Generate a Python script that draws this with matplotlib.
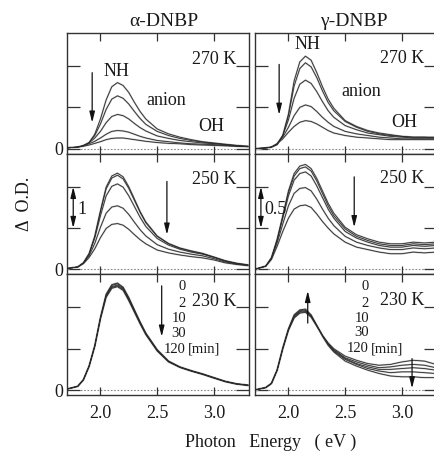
import matplotlib
matplotlib.use("Agg")
import matplotlib.pyplot as plt

plt.rcParams['font.family'] = ['Liberation Serif', 'DejaVu Serif']
plt.rcParams['mathtext.fontset'] = 'stix'

# ---------------- data ----------------
energy = [1.70, 1.80, 1.85, 1.90, 1.95, 2.00, 2.05, 2.10, 2.15, 2.20, 2.25, 2.30,
          2.35, 2.40, 2.50, 2.60, 2.70, 2.80, 2.90, 3.00, 3.10, 3.20, 3.30]

alpha_270 = [
    [0.02, 0.04, 0.07, 0.15, 0.35, 0.72, 1.18, 1.50, 1.60, 1.53, 1.36, 1.12, 0.90, 0.72, 0.48, 0.36, 0.28, 0.22, 0.17, 0.14, 0.11, 0.08, 0.06],
    [0.02, 0.04, 0.08, 0.15, 0.32, 0.60, 0.95, 1.20, 1.28, 1.22, 1.08, 0.90, 0.73, 0.59, 0.42, 0.32, 0.25, 0.20, 0.16, 0.13, 0.10, 0.08, 0.06],
    [0.02, 0.04, 0.08, 0.14, 0.26, 0.42, 0.63, 0.78, 0.83, 0.80, 0.72, 0.61, 0.51, 0.43, 0.31, 0.25, 0.20, 0.17, 0.14, 0.12, 0.10, 0.07, 0.05],
    [0.02, 0.04, 0.07, 0.12, 0.18, 0.26, 0.35, 0.42, 0.44, 0.43, 0.40, 0.35, 0.30, 0.26, 0.20, 0.17, 0.14, 0.12, 0.11, 0.10, 0.08, 0.06, 0.05],
    [0.02, 0.04, 0.06, 0.09, 0.13, 0.17, 0.22, 0.25, 0.26, 0.26, 0.24, 0.22, 0.20, 0.18, 0.15, 0.13, 0.12, 0.10, 0.09, 0.08, 0.07, 0.06, 0.05],
]
gamma_270 = [
    [0.00, 0.01, 0.02, 0.05, 0.16, 0.42, 0.82, 1.05, 1.12, 1.07, 0.92, 0.75, 0.60, 0.49, 0.34, 0.27, 0.22, 0.19, 0.17, 0.15, 0.14, 0.14, 0.14],
    [0.00, 0.01, 0.02, 0.05, 0.16, 0.40, 0.76, 0.97, 1.04, 0.99, 0.86, 0.70, 0.56, 0.46, 0.33, 0.26, 0.21, 0.18, 0.16, 0.15, 0.14, 0.14, 0.13],
    [0.00, 0.01, 0.02, 0.06, 0.16, 0.35, 0.61, 0.78, 0.83, 0.79, 0.69, 0.57, 0.46, 0.38, 0.28, 0.23, 0.19, 0.17, 0.15, 0.14, 0.13, 0.13, 0.13],
    [0.00, 0.01, 0.02, 0.06, 0.14, 0.26, 0.40, 0.50, 0.53, 0.51, 0.45, 0.38, 0.32, 0.27, 0.21, 0.18, 0.16, 0.14, 0.13, 0.12, 0.12, 0.12, 0.12],
    [0.00, 0.01, 0.02, 0.06, 0.12, 0.20, 0.27, 0.32, 0.34, 0.33, 0.30, 0.26, 0.22, 0.19, 0.16, 0.14, 0.13, 0.12, 0.11, 0.11, 0.11, 0.11, 0.11],
]
alpha_250 = [
    [0.02, 0.06, 0.16, 0.38, 0.80, 1.42, 1.99, 2.26, 2.33, 2.24, 2.00, 1.70, 1.40, 1.15, 0.81, 0.63, 0.52, 0.45, 0.39, 0.30, 0.21, 0.15, 0.11],
    [0.02, 0.06, 0.16, 0.38, 0.80, 1.40, 1.95, 2.21, 2.28, 2.19, 1.96, 1.67, 1.38, 1.13, 0.80, 0.62, 0.51, 0.44, 0.38, 0.30, 0.21, 0.15, 0.11],
    [0.02, 0.06, 0.16, 0.37, 0.76, 1.30, 1.78, 2.01, 2.07, 1.99, 1.78, 1.52, 1.26, 1.04, 0.75, 0.59, 0.49, 0.42, 0.37, 0.29, 0.20, 0.14, 0.10],
    [0.02, 0.06, 0.15, 0.33, 0.63, 1.02, 1.36, 1.51, 1.54, 1.48, 1.33, 1.14, 0.96, 0.81, 0.60, 0.49, 0.42, 0.37, 0.33, 0.26, 0.18, 0.13, 0.10],
    [0.02, 0.06, 0.14, 0.29, 0.50, 0.77, 0.99, 1.09, 1.11, 1.07, 0.97, 0.84, 0.72, 0.62, 0.47, 0.40, 0.35, 0.31, 0.28, 0.23, 0.16, 0.12, 0.09],
]
gamma_250 = [
    [0.00, 0.04, 0.14, 0.36, 0.65, 0.95, 1.16, 1.25, 1.27, 1.22, 1.10, 0.95, 0.80, 0.68, 0.51, 0.42, 0.37, 0.33, 0.31, 0.31, 0.33, 0.32, 0.33],
    [0.00, 0.04, 0.14, 0.36, 0.64, 0.93, 1.13, 1.22, 1.24, 1.19, 1.07, 0.92, 0.77, 0.65, 0.49, 0.40, 0.35, 0.31, 0.29, 0.29, 0.31, 0.30, 0.31],
    [0.00, 0.04, 0.14, 0.35, 0.62, 0.89, 1.08, 1.16, 1.18, 1.13, 1.01, 0.87, 0.73, 0.62, 0.46, 0.38, 0.33, 0.29, 0.27, 0.27, 0.29, 0.28, 0.29],
    [0.00, 0.04, 0.13, 0.32, 0.55, 0.77, 0.92, 0.98, 0.99, 0.95, 0.85, 0.73, 0.62, 0.53, 0.40, 0.33, 0.29, 0.26, 0.24, 0.24, 0.26, 0.25, 0.26],
    [0.00, 0.04, 0.12, 0.28, 0.46, 0.62, 0.73, 0.77, 0.78, 0.75, 0.67, 0.58, 0.50, 0.43, 0.33, 0.27, 0.24, 0.21, 0.19, 0.19, 0.21, 0.20, 0.21],
]
alpha_230 = [
    [0.02, 0.09, 0.25, 0.58, 1.07, 1.76, 2.32, 2.55, 2.59, 2.49, 2.24, 1.94, 1.65, 1.38, 0.98, 0.70, 0.56, 0.47, 0.39, 0.30, 0.21, 0.15, 0.12],
    [0.02, 0.09, 0.25, 0.58, 1.07, 1.75, 2.30, 2.53, 2.57, 2.47, 2.22, 1.93, 1.64, 1.37, 0.97, 0.70, 0.56, 0.47, 0.39, 0.30, 0.21, 0.15, 0.12],
    [0.02, 0.09, 0.25, 0.58, 1.07, 1.74, 2.28, 2.50, 2.54, 2.45, 2.20, 1.91, 1.62, 1.36, 0.96, 0.69, 0.55, 0.46, 0.39, 0.30, 0.21, 0.15, 0.12],
    [0.02, 0.09, 0.25, 0.58, 1.06, 1.73, 2.26, 2.48, 2.52, 2.43, 2.18, 1.89, 1.61, 1.35, 0.95, 0.69, 0.55, 0.46, 0.38, 0.29, 0.21, 0.15, 0.11],
    [0.02, 0.09, 0.25, 0.57, 1.06, 1.72, 2.24, 2.46, 2.50, 2.41, 2.16, 1.88, 1.60, 1.34, 0.95, 0.68, 0.55, 0.46, 0.38, 0.29, 0.20, 0.14, 0.11],
]
gamma_230 = [
    [0.00, 0.03, 0.08, 0.24, 0.50, 0.72, 0.87, 0.93, 0.94, 0.88, 0.77, 0.66, 0.57, 0.50, 0.41, 0.36, 0.32, 0.30, 0.31, 0.34, 0.36, 0.35, 0.31],
    [0.00, 0.03, 0.08, 0.24, 0.50, 0.73, 0.88, 0.94, 0.95, 0.89, 0.78, 0.66, 0.56, 0.49, 0.39, 0.34, 0.30, 0.27, 0.28, 0.30, 0.31, 0.30, 0.27],
    [0.00, 0.03, 0.08, 0.24, 0.50, 0.73, 0.89, 0.95, 0.96, 0.90, 0.78, 0.66, 0.56, 0.48, 0.38, 0.32, 0.28, 0.25, 0.25, 0.26, 0.27, 0.26, 0.24],
    [0.00, 0.03, 0.08, 0.24, 0.51, 0.74, 0.90, 0.96, 0.97, 0.90, 0.78, 0.66, 0.55, 0.47, 0.37, 0.31, 0.26, 0.23, 0.21, 0.22, 0.22, 0.21, 0.20],
    [0.00, 0.03, 0.08, 0.24, 0.51, 0.74, 0.91, 0.97, 0.98, 0.91, 0.78, 0.65, 0.54, 0.46, 0.35, 0.29, 0.24, 0.20, 0.17, 0.16, 0.16, 0.15, 0.15],
]

temps = ["270 K", "250 K", "230 K"]
titles = ["\u03b1-DNBP", "\u03b3-DNBP"]
xticks = [2.0, 2.5, 3.0]
xticklabels = ["2.0", "2.5", "3.0"]
time_labels = ["0", "2", "10", "30", "120"]

# ---------------- layout ----------------
W, H = 435, 457
fig = plt.figure(figsize=(W / 100, H / 100), dpi=100)

def fx(px):
    return px / W

def fy(py):
    return 1 - py / H

left_x = [67, 255]
ax_w = 182
tops = [33, 153.7, 274.3]
ax_h = 120.7

data = [[alpha_270, gamma_270], [alpha_250, gamma_250], [alpha_230, gamma_230]]
axes = [[None, None] for _ in range(3)]
FS = 13
TXT = '#1a1a1a'

for r in range(3):
    for c in range(2):
        ax = fig.add_axes([fx(left_x[c]), fy(tops[r] + ax_h), fx(ax_w), ax_h / H])
        axes[r][c] = ax
        ax.set_xlim(1.705, 3.31)
        if c == 0:
            ax.set_ylim(-0.12, 2.80)
            ax.set_yticks([0, 1, 2])
            ax.set_yticklabels(["0", "", ""])
        else:
            ax.set_ylim(-0.06, 1.40)
            ax.set_yticks([0, 0.5, 1.0])
            ax.set_yticklabels(["", "", ""])
        ax.set_xticks(xticks)
        if r == 2:
            ax.set_xticklabels(xticklabels)
        else:
            ax.set_xticklabels([])
        ax.tick_params(axis='x', direction='in', top=True, bottom=True, length=6,
                       width=0.9, labelsize=FS, pad=7, colors='#333333', labelcolor=TXT)
        ax.tick_params(axis='y', direction='in', left=True, right=True, length=9.5,
                       width=0.9, labelsize=FS, pad=3, colors='#333333', labelcolor=TXT)
        for s in ax.spines.values():
            s.set_linewidth(1.0)
            s.set_color('#333333')
        ax.axhline(0, color='#888888', lw=0.8, ls=(0, (1.5, 1.5)), zorder=1)
        for curve in data[r][c]:
            ax.plot(energy, curve, color='#c4c4c4', lw=1.3, zorder=2)
            ax.plot(energy, curve, color='#2a2a2a', lw=0.6, zorder=3)

# titles
fig.text(fx(164), fy(22), titles[0], ha='center', va='center', fontsize=14, color=TXT)
fig.text(fx(354), fy(22), titles[1], ha='center', va='center', fontsize=14, color=TXT)

# axis labels
fig.text(fx(271), fy(442), "Photon   Energy   ( eV )", ha='center', va='center', fontsize=FS, color=TXT)
fig.text(fx(25), fy(204), "\u0394  O.D.", ha='center', va='center', rotation=90, fontsize=FS, color=TXT)

arrow_kw = dict(arrowstyle='-|>,head_width=0.16,head_length=0.65', color='#111111', lw=0.9,
                shrinkA=0, shrinkB=0)
dbl_kw = dict(arrowstyle='<|-|>,head_width=0.16,head_length=0.65', color='#111111', lw=0.9,
              shrinkA=0, shrinkB=0)

# temperature labels
temp_y = [[2.17, 1.09], [2.17, 1.10], [2.14, 1.08]]
for r in range(3):
    for c in range(2):
        axes[r][c].text(3.20, temp_y[r][c], temps[r], ha='right', va='center', fontsize=FS, color=TXT)

# top row annotations
a = axes[0][0]
a.text(2.14, 1.86, "NH", ha='center', va='center', fontsize=FS, color=TXT)
a.text(2.58, 1.17, "anion", ha='center', va='center', fontsize=FS, color=TXT)
a.text(2.98, 0.53, "OH", ha='center', va='center', fontsize=FS, color=TXT)
a.annotate("", xy=(1.927, 0.63), xytext=(1.927, 1.84), arrowprops=arrow_kw)

a = axes[0][1]
a.text(2.17, 1.255, "NH", ha='center', va='center', fontsize=FS, color=TXT)
a.text(2.64, 0.69, "anion", ha='center', va='center', fontsize=FS, color=TXT)
a.text(3.02, 0.32, "OH", ha='center', va='center', fontsize=FS, color=TXT)
a.annotate("", xy=(1.918, 0.41), xytext=(1.918, 1.02), arrowprops=arrow_kw)

# middle row
a = axes[1][0]
a.annotate("", xy=(2.586, 0.84), xytext=(2.586, 2.13), arrowprops=arrow_kw)
a.annotate("", xy=(1.76, 1.0), xytext=(1.76, 2.0), arrowprops=dbl_kw)
a.text(1.80, 1.45, "1", ha='left', va='center', fontsize=FS, color=TXT)

a = axes[1][1]
a.annotate("", xy=(2.58, 0.51), xytext=(2.58, 1.12), arrowprops=arrow_kw)
a.annotate("", xy=(1.757, 0.5), xytext=(1.757, 1.0), arrowprops=dbl_kw)
a.text(1.79, 0.73, "0.5", ha='left', va='center', fontsize=FS, color=TXT)

# bottom row
SFS = 10.5
a = axes[2][0]
a.annotate("", xy=(2.54, 1.29), xytext=(2.54, 2.52), arrowprops=arrow_kw)
ys = [2.50, 2.10, 1.74, 1.37, 0.99]
for lab, yv in zip(time_labels, ys):
    a.text(2.755, yv, lab, ha='right', va='center', fontsize=SFS, color=TXT)
a.text(2.775, ys[-1], "[min]", ha='left', va='center', fontsize=SFS, color=TXT)

a = axes[2][1]
a.annotate("", xy=(2.17, 1.20), xytext=(2.17, 0.81), arrowprops=arrow_kw)
a.annotate("", xy=(3.09, 0.02), xytext=(3.09, 0.38), arrowprops=arrow_kw)
ys = [1.25, 1.05, 0.87, 0.69, 0.50]
for lab, yv in zip(time_labels, ys):
    a.text(2.71, yv, lab, ha='right', va='center', fontsize=SFS, color=TXT)
a.text(2.73, ys[-1], "[min]", ha='left', va='center', fontsize=SFS, color=TXT)

fig.savefig("out.png", dpi=100)
